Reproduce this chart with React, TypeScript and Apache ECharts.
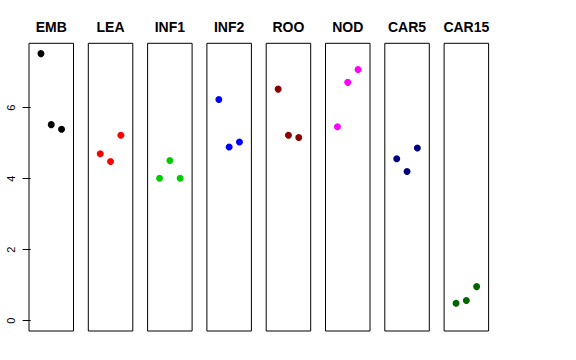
import React, { useEffect, useRef } from "react";
import * as echarts from "echarts";

const categories = ["EMB", "LEA", "INF1", "INF2", "ROO", "NOD", "CAR5", "CAR15"];
const xPositions = [1, 2, 3];
const EMB = [7.52, 5.52, 5.39];
const LEA = [4.7, 4.48, 5.22];
const INF1 = [4.01, 4.51, 4.01];
const INF2 = [6.23, 4.89, 5.03];
const ROO = [6.52, 5.22, 5.16];
const NOD = [5.46, 6.71, 7.07];
const CAR5 = [4.56, 4.2, 4.86];
const CAR15 = [0.49, 0.57, 0.96];
const seriesValues = [EMB, LEA, INF1, INF2, ROO, NOD, CAR5, CAR15];
const colors = ["#000000", "#FF0000", "#00CD00", "#0000FF", "#8B0000", "#FF00FF", "#000080", "#006400"];
const yTicks = [0, 2, 4, 6];

export default function App() {
  const ref = useRef<HTMLDivElement>(null);
  useEffect(() => {
    if (!ref.current) return;
    const chart = echarts.init(ref.current, null, { renderer: "svg" });
    const left0 = 29;
    const step = 59.3;
    const w = 44.5;
    const top = 43.3;
    const h = 287.7;
    const grids: any[] = [];
    const xAxes: any[] = [];
    const yAxes: any[] = [];
    const series: any[] = [];
    const titles: any[] = [];
    categories.forEach((name, i) => {
      const l = left0 + i * step;
      grids.push({ left: l, top, width: w, height: h, show: true, borderColor: "#000", borderWidth: 1, backgroundColor: "transparent" });
      xAxes.push({ gridIndex: i, type: "value", min: -0.16, max: 4.16, show: false });
      yAxes.push({
        gridIndex: i,
        type: "value",
        min: -0.29,
        max: 7.81,
        show: i === 0,
        splitLine: { show: false },
        axisLine: { show: false },
        axisTick: i === 0 ? { show: true, customValues: yTicks, length: 8, lineStyle: { color: "#000" } } : { show: false },
        axisLabel: i === 0
          ? { show: true, customValues: yTicks, rotate: 90, fontSize: 11, color: "#000", fontFamily: "Liberation Sans, Arial, sans-serif", margin: 13 }
          : { show: false },
      });
      series.push({
        type: "scatter",
        xAxisIndex: i,
        yAxisIndex: i,
        symbol: "circle",
        symbolSize: 7,
        itemStyle: { color: colors[i], opacity: 1 },
        data: xPositions.map((x, k) => [x, seriesValues[i][k]]),
      });
      titles.push({
        text: name,
        left: l + w / 2,
        top: 20,
        textAlign: "center",
        padding: 0,
        textStyle: { fontSize: 14, fontWeight: "bold", color: "#000", fontFamily: "Liberation Sans, Arial, sans-serif" },
      });
    });
    chart.setOption({
      animation: false,
      backgroundColor: "#fff",
      title: titles,
      grid: grids,
      xAxis: xAxes,
      yAxis: yAxes,
      series,
    });
    return () => chart.dispose();
  }, []);
  return <div ref={ref} style={{ width: 576, height: 360, position: "absolute", left: 0, top: 0 }} />;
}
